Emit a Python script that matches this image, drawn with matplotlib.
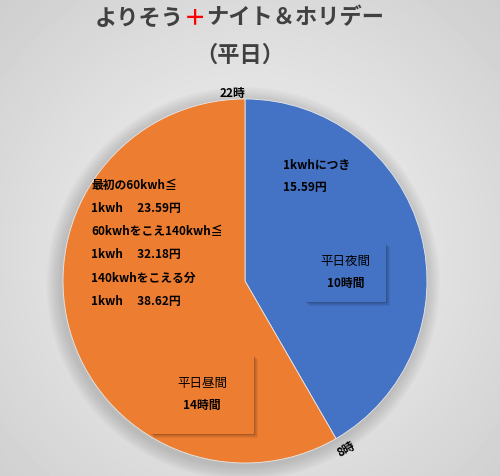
import numpy as np
import matplotlib.pyplot as plt
from matplotlib.patches import Rectangle, Circle

plt.rcParams['font.family'] = ['Noto Sans CJK JP', 'DejaVu Sans']

# data
periods = ["平日夜間", "平日昼間"]
hours = [10, 14]
colors = ["#4472C4", "#ED7D31"]
box_lines = [["平日夜間", "10時間"], ["平日昼間", "14時間"]]
night_price = ["1kwhにつき", "15.59円"]
day_price = ["最初の60kwh≦", "1kwh\u3000 23.59円", "60kwhをこえ140kwh≦",
             "1kwh\u3000 32.18円", "140kwhをこえる分", "1kwh\u3000 38.62円"]

W, H = 500, 476
fig = plt.figure(figsize=(W / 100, H / 100), dpi=100)

def fx(x):
    return x / W

def fy(y):
    return 1 - y / H

# background gradient
bg = fig.add_axes([0, 0, 1, 1])
yy, xx = np.mgrid[0:H, 0:W]
d = np.sqrt(((xx - 250) / 340.0) ** 2 + ((yy - 250) / 340.0) ** 2)
shade = 0.965 - 0.15 * np.clip(d, 0, 1.2)
bg.imshow(shade, cmap='gray', vmin=0, vmax=1, extent=[0, 1, 0, 1], aspect='auto')
bg.axis('off')

# pie
cx, cy, r = 245, 281, 182
ax = fig.add_axes([fx(cx - r), fy(cy + r), 2 * r / W, 2 * r / H])
for k in range(8):
    ax.add_patch(Circle((-0.01, -0.015), 1.0 + 0.01 * (k + 1), color='black',
                        alpha=0.02, zorder=0, lw=0, clip_on=False))
wedges, _ = ax.pie(hours, colors=colors, startangle=90, counterclock=False,
                   wedgeprops=dict(edgecolor='#e8e8e8', linewidth=0.6))
ax.set_xlim(-1, 1)
ax.set_ylim(-1, 1)
ax.set_aspect('auto')
ax.axis('off')

# title
fig.canvas.draw()
rend = fig.canvas.get_renderer()
parts = [("よりそう", "#404040"), ("＋", "#FF0000"), ("ナイト＆ホリデー", "#404040")]
x0 = fx(95)
for s, c in parts:
    t = fig.text(x0, fy(18), s, color=c, fontsize=16, fontweight='bold',
                 va='center', ha='left')
    bb = t.get_window_extent(renderer=rend)
    x0 += bb.width / W
fig.text(fx(240), fy(55), "（平日）", color='#404040', fontsize=16,
         fontweight='bold', ha='center', va='center')

# hour labels
fig.text(fx(232), fy(93), "22時", fontsize=8.5, fontweight='bold', ha='center', va='center')
fig.text(fx(346), fy(449), "8時", fontsize=8.5, fontweight='bold', ha='center',
         va='center', rotation=30)

# boxes with soft shadow
boxes = [(305, 243, 81, 59, colors[0]), (150, 355, 104, 79, colors[1])]
for (bx, by, bw, bh, c), lines in zip(boxes, box_lines):
    for k in range(6):
        fig.add_artist(Rectangle((fx(bx + 0.7 * k), fy(by + bh + 0.7 * k)),
                                 bw / W, bh / H, transform=fig.transFigure,
                                 facecolor='black', alpha=0.06, lw=0))
    fig.add_artist(Rectangle((fx(bx), fy(by + bh)), bw / W, bh / H,
                             transform=fig.transFigure, facecolor=c, lw=0))
    mx = bx + bw / 2
    fig.text(fx(mx), fy(by + bh / 2 - 11), lines[0], fontsize=9, ha='center', va='center')
    fig.text(fx(mx), fy(by + bh / 2 + 11), lines[1], fontsize=8.5, fontweight='bold',
             ha='center', va='center')

# price text
for i, s in enumerate(night_price):
    fig.text(fx(283), fy(165 + 23 * i), s, fontsize=8.5, fontweight='bold', va='center')
for i, s in enumerate(day_price):
    fig.text(fx(91), fy(185 + 23.3 * i), s, fontsize=8.5, fontweight='bold', va='center')

fig.savefig("out.png", dpi=100)
